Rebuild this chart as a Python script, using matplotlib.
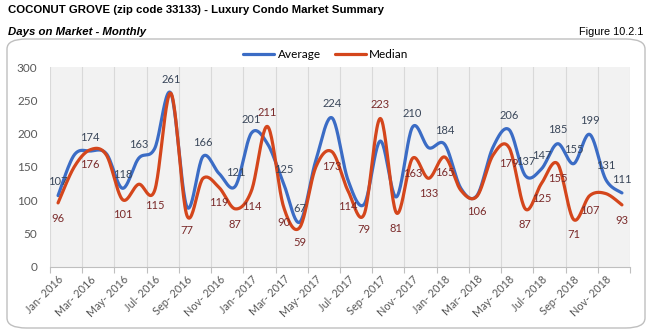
"""Coconut Grove luxury condo days-on-market chart (monthly average / median)."""

import numpy as np
import matplotlib

matplotlib.use("Agg")
import matplotlib.pyplot as plt
from matplotlib.patches import FancyBboxPatch

# ---------------------------------------------------------------------------
# Data
# ---------------------------------------------------------------------------

months = [
    f"{m}- {y}"
    for y in (2016, 2017, 2018)
    for m in ("Jan", "Feb", "Mar", "Apr", "May", "Jun",
              "Jul", "Aug", "Sep", "Oct", "Nov", "Dec")
]

average = [107, 168, 174, 170, 118, 163, 178, 261, 90, 166, 140, 121,
           201, 185, 125, 67, 160, 224, 130, 94, 189, 105, 210, 179,
           184, 118, 107, 180, 206, 137, 147, 185, 155, 199, 131, 111]
median = [96, 150, 176, 168, 101, 124, 115, 261, 77, 133, 119, 87,
          114, 211, 90, 59, 150, 173, 114, 79, 223, 81, 163, 133,
          165, 115, 106, 168, 179, 87, 125, 155, 71, 107, 110, 93]

# which points carry a data label in the original
avg_labeled = [0, 2, 4, 5, 7, 9, 11, 12, 14, 15, 17, 22, 24,
               28, 29, 30, 31, 32, 33, 34, 35]
med_labeled = [0, 2, 4, 6, 8, 10, 11, 12, 13, 14, 15, 17, 18, 19, 20,
               21, 22, 23, 24, 26, 28, 29, 30, 31, 32, 33, 35]
med_label_above = [13, 20]

yticks = [0, 50, 100, 150, 200, 250, 300]

BLUE = "#3b6cc5"
RED = "#d4461c"
BLUE_TXT = "#3a475a"
RED_TXT = "#7a2a2a"
GREY_TXT = "#595959"

FONT = ["Lato", "DejaVu Sans"]
HEAD = ["Liberation Sans", "DejaVu Sans"]


def smooth(xs, ys, n=24):
    """Excel-style smoothed line: cubic Bezier with 1/6 tangent handles."""
    x = np.asarray(xs, float)
    y = np.asarray(ys, float)
    xp = np.concatenate([[x[0]], x, [x[-1]]])
    yp = np.concatenate([[y[0]], y, [y[-1]]])
    t = np.linspace(0, 1, n, endpoint=False)[:, None]
    pts = []
    for i in range(len(x) - 1):
        p0 = np.array([xp[i], yp[i]])
        p1 = np.array([xp[i + 1], yp[i + 1]])
        p2 = np.array([xp[i + 2], yp[i + 2]])
        p3 = np.array([xp[i + 3], yp[i + 3]])
        c1 = p1 + (p2 - p0) / 6
        c2 = p2 - (p3 - p1) / 6
        seg = ((1 - t) ** 3) * p1 + 3 * ((1 - t) ** 2) * t * c1 \
            + 3 * (1 - t) * t ** 2 * c2 + t ** 3 * p2
        pts.append(seg)
    pts.append(np.array([[x[-1], y[-1]]]))
    pts = np.vstack(pts)
    return pts[:, 0], pts[:, 1]


W, H = 649, 333
fig = plt.figure(figsize=(W / 100, H / 100), dpi=100)

# rounded frame around the chart
frame = FancyBboxPatch(
    (7 / W, (H - 328) / H), 638 / W, 289 / H,
    boxstyle="round,pad=0,rounding_size=0.03",
    transform=fig.transFigure, facecolor="white",
    edgecolor="#bfbfbf", linewidth=1.0, zorder=-5,
)
fig.patches.append(frame)

fig.text(8 / W, 1 - 10 / H,
         "COCONUT GROVE (zip code 33133) - Luxury Condo Market Summary",
         family=HEAD, weight="bold", fontsize=8.2, va="center", ha="left")
fig.text(8 / W, 1 - 32 / H, "Days on Market - Monthly",
         family=HEAD, weight="bold", style="italic", fontsize=8.2,
         va="center", ha="left")
fig.text(643 / W, 1 - 32 / H, "Figure 10.2.1",
         family=HEAD, fontsize=7.8, va="center", ha="right")

ax = fig.add_axes([50 / W, 1 - 266.7 / H, 580 / W, 199.4 / H])
ax.set_facecolor("#f2f2f2")

x = np.arange(len(months))
sx, sy = smooth(x, average)
ax.plot(sx, sy, color=BLUE, lw=2.3, solid_capstyle="round", label="Average", zorder=3)
sx, sy = smooth(x, median)
ax.plot(sx, sy, color=RED, lw=2.3, solid_capstyle="round", label="Median", zorder=4)

for i in avg_labeled:
    ax.annotate(str(average[i]), (x[i], average[i]), xytext=(0, 10),
                textcoords="offset points", ha="center", va="center",
                fontsize=8, color=BLUE_TXT, family=FONT, zorder=6)
for i in med_labeled:
    dy = 10 if i in med_label_above else -11
    ax.annotate(str(median[i]), (x[i], median[i]), xytext=(0, dy),
                textcoords="offset points", ha="center", va="center",
                fontsize=8, color=RED_TXT, family=FONT, zorder=6)

ax.set_xlim(-0.5, len(months) - 0.5)
ax.set_ylim(0, 300)
ax.set_yticks(yticks)
ax.set_yticklabels([str(v) for v in yticks], family=FONT, fontsize=8.5,
                   color=GREY_TXT)
ax.tick_params(axis="y", length=0, pad=9)

bounds = np.arange(-0.5, len(months), 2)
ax.set_xticks(bounds)
ax.set_xticklabels([])
ax.set_xticks(x[::2], minor=True)
ax.set_xticklabels(months[::2], minor=True, rotation=45, ha="right",
                   rotation_mode="anchor", family=FONT, fontsize=7.8,
                   color=GREY_TXT)
ax.tick_params(axis="x", which="major", length=4, color="#bfbfbf")
ax.tick_params(axis="x", which="minor", length=0, pad=5)
ax.grid(axis="x", which="major", color="#d9d9d9", lw=0.8)
ax.set_axisbelow(True)

for side in ("left", "right", "top"):
    ax.spines[side].set_visible(False)
ax.spines["bottom"].set_color("#bfbfbf")

fig.legend(loc="center", bbox_to_anchor=(326 / W, 1 - 55 / H), ncol=2,
           frameon=False, handlelength=2.6, handletextpad=0.3,
           columnspacing=1.2, prop={"family": FONT, "size": 8.5})

fig.savefig("out.png", dpi=100)
